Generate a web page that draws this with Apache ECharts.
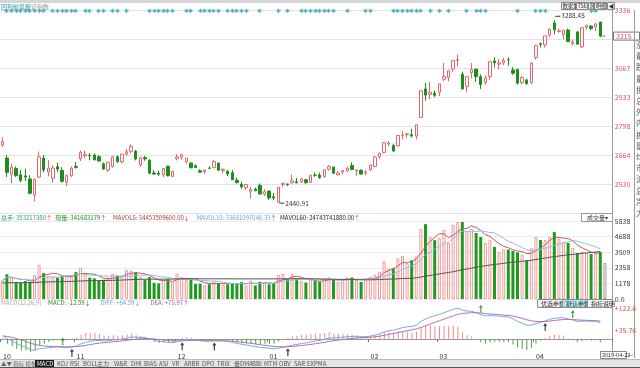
<!DOCTYPE html>
<html><head><meta charset="utf-8">
<script src="https://cdn.jsdelivr.net/npm/echarts/dist/echarts.min.js"></script>
<style>html,body{margin:0;padding:0;background:#fff;overflow:hidden}#c{width:640px;height:368px}</style>
</head><body><div id="c"></div>
<script>
// ---------------- data ----------------
const dates = [
'2018-10-10','2018-10-11','2018-10-12','2018-10-15','2018-10-16','2018-10-17','2018-10-18','2018-10-19','2018-10-22','2018-10-23','2018-10-24','2018-10-25','2018-10-26','2018-10-29','2018-10-30','2018-10-31',
'2018-11-01','2018-11-02','2018-11-05','2018-11-06','2018-11-07','2018-11-08','2018-11-09','2018-11-12','2018-11-13','2018-11-14','2018-11-15','2018-11-16','2018-11-19','2018-11-20','2018-11-21','2018-11-22','2018-11-23','2018-11-26','2018-11-27','2018-11-28','2018-11-29','2018-11-30',
'2018-12-03','2018-12-04','2018-12-05','2018-12-06','2018-12-07','2018-12-10','2018-12-11','2018-12-12','2018-12-13','2018-12-14','2018-12-17','2018-12-18','2018-12-19','2018-12-20','2018-12-21','2018-12-24','2018-12-25','2018-12-26','2018-12-27','2018-12-28',
'2019-01-02','2019-01-03','2019-01-04','2019-01-07','2019-01-08','2019-01-09','2019-01-10','2019-01-11','2019-01-14','2019-01-15','2019-01-16','2019-01-17','2019-01-18','2019-01-21','2019-01-22','2019-01-23','2019-01-24','2019-01-25','2019-01-28','2019-01-29','2019-01-30','2019-01-31',
'2019-02-01','2019-02-11','2019-02-12','2019-02-13','2019-02-14','2019-02-15','2019-02-18','2019-02-19','2019-02-20','2019-02-21','2019-02-22','2019-02-25','2019-02-26','2019-02-27','2019-02-28',
'2019-03-01','2019-03-04','2019-03-05','2019-03-06','2019-03-07','2019-03-08','2019-03-11','2019-03-12','2019-03-13','2019-03-14','2019-03-15','2019-03-18','2019-03-19','2019-03-20','2019-03-21','2019-03-22','2019-03-25','2019-03-26','2019-03-27','2019-03-28','2019-03-29',
'2019-04-01','2019-04-02','2019-04-03','2019-04-04','2019-04-08','2019-04-09','2019-04-10','2019-04-11','2019-04-12','2019-04-15','2019-04-16','2019-04-17','2019-04-18','2019-04-19','2019-04-22'];
const openP = [2711,2650,2575,2602,2572,2567,2553,2478,2562,2650,2585,2556,2610,2592,2538,2568,
2611,2646,2660,2662,2664,2656,2623,2594,2610,2656,2633,2668,2681,2682,2618,2652,2640,2581,2580,2572,2612,2565,
2647,2654,2633,2627,2614,2591,2586,2603,2605,2627,2592,2588,2582,2547,2528,2512,2496,2506,2523,2482,
2497,2470,2446,2528,2530,2535,2540,2540,2549,2538,2571,2571,2563,2598,2608,2572,2585,2590,2615,2590,2593,2581,
2596,2611,2656,2676,2715,2708,2706,2755,2758,2758,2752,2838,2970,2945,2951,
2955,3015,3024,3062,3103,3038,2982,3046,3062,3027,3000,3028,3100,3085,3091,3105,3058,3060,3000,3012,2999,
3116,3180,3174,3220,3276,3236,3222,3243,3180,3234,3165,3256,3262,3257,3280];
const highP = [2747,2664,2623,2611,2594,2601,2571,2555,2680,2664,2640,2616,2629,2608,2575,2611,
2632,2685,2685,2674,2671,2664,2630,2633,2660,2662,2670,2692,2714,2686,2656,2660,2644,2594,2590,2604,2614,2591,
2667,2666,2650,2628,2621,2598,2595,2612,2640,2627,2601,2595,2594,2560,2540,2528,2516,2513,2532,2505,
2500,2488,2515,2536,2531,2574,2558,2555,2553,2571,2582,2582,2598,2618,2609,2590,2595,2610,2630,2598,2598,2594,
2619,2659,2675,2724,2728,2717,2756,2774,2767,2786,2805,2961.8,2998,3002,2963,
2995,3090.8,3055,3103,3129.94,3050,3027,3090,3062,3038,3034,3097,3117,3108,3114,3118,3071,3065,3029,3018,3093,
3176,3186,3217,3251,3288.45,3250,3244,3250,3198,3240,3257,3270,3264,3276,3282];
const lowP = [2701,2562,2534,2562,2537,2543,2482,2449.2,2556,2584,2565,2536,2586,2536,2520,2561,
2601,2636,2650,2640,2640,2635,2597,2585,2605,2628,2625,2660,2671,2639,2608,2637,2575,2573,2568,2561,2566,2561,
2639,2642,2625,2601,2604,2583,2578,2598,2603,2590,2579,2566,2548,2532,2508,2502,2462,2496,2482,2474,
2456,2455,2440.91,2515,2520,2531,2533,2535,2530,2534,2563,2553,2560,2592,2577,2569,2575,2587,2594,2568,2573,2571,
2591,2607,2646,2671,2704,2679,2705,2736,2744,2745,2737,2838,2916,2922,2932,
2937,3006,3006,3050,3075,2969,2954,3019,3002,2970,2991,3013,3070,3061,3081,3078,3036,2990,2993,2989,2992,
3107,3162,3162,3210,3224,3230,3200,3188,3172,3177,3160,3245,3243,3238,3210];
const closeP = [2725.84,2583.46,2606.91,2568.10,2546.33,2561.61,2486.42,2550.47,2654.88,2594.83,2603.30,2603.80,2598.85,2542.10,2568.05,2602.78,
2606.24,2676.48,2665.43,2659.36,2641.34,2635.63,2598.87,2630.52,2654.88,2632.24,2668.17,2679.11,2703.51,2645.43,2651.51,2645.85,2579.48,2575.81,2574.68,2601.74,2567.44,2588.19,
2654.80,2665.96,2649.81,2605.18,2605.89,2584.58,2594.09,2602.15,2634.05,2593.74,2597.97,2576.65,2549.56,2536.27,2516.25,2527.01,2504.82,2498.29,2483.09,2493.90,
2465.29,2464.36,2514.87,2533.09,2526.46,2544.34,2535.10,2553.83,2535.77,2570.34,2570.42,2559.64,2596.01,2610.51,2579.70,2581.00,2591.69,2601.72,2596.98,2594.25,2575.58,2584.57,
2618.23,2653.90,2671.89,2721.07,2719.70,2682.39,2754.36,2755.65,2761.22,2751.80,2804.23,2961.28,2941.52,2953.82,2940.95,
2994.01,3027.58,3054.25,3102.10,3106.42,2969.86,3026.99,3060.31,3026.95,2990.69,3021.75,3096.42,3090.98,3090.64,3101.46,3104.15,3043.03,2997.10,3022.72,2994.94,3090.76,
3170.36,3176.82,3216.30,3246.57,3244.81,3239.66,3241.93,3189.96,3188.63,3177.79,3253.60,3263.12,3250.20,3270.80,3215.04];
const volume = [1380,1850,1650,1270,1210,1340,1250,1780,2560,1940,1700,1690,1600,1730,1770,1660,
2010,2320,1820,1600,1540,1370,1440,1590,1880,1740,1740,2180,2120,2000,1650,1440,1640,1210,1170,1420,1480,1260,
1900,1630,1420,1440,1130,1140,1020,1110,1330,1200,1040,1100,1150,1170,1260,1000,1380,1010,1290,1260,
1100,1200,1800,1890,1480,1890,1500,1360,1230,1440,1340,1290,1500,1620,1450,1280,1420,1620,1610,1440,1270,1510,
1680,1820,2040,2830,2270,2300,3040,3220,2680,2900,3180,5240,5600,4640,4410,
4560,5160,4190,5540,5760,5760,5090,5240,4940,4640,4190,4400,3900,3500,3700,3700,3600,3500,3300,2900,3800,
4640,4414,4414,4640,5012,4500,4264,4190,3815,3440,3515,3440,3366,3440,3515];
const pendingVolume = 2693;
const priorVolumeMean = 1200;   // level of the MAVOL60 line at the left edge
const signalIdx = [1,2,3,4,5,6,7,8,9,11,12,13,14,15,16,18,19,21,22,24,25,27,32,33,34,35,36,37,40,41,43,44,45,46,47,49,50,51,52,53,56,60,62,65,66,67,68,69,70,71,72,75,79,80,85,86,87,88,89,90,91,93,95,97,101,103,104,105,112,116,117,118,128,129];
const goldenIdx = [15,39,46,62,118];
const deadIdx = [13,104,124];
const priceTickLabels = ['', '2530','2664','2798','2933','3067','','3336'];
const volTickLabels = ['0.0','1178','2358','3509','4688','5838'];
const macdTickLabels = ['', '+35.76', '+122.6'];
const seed = {ema12: 2738, ema26: 2722, dea: 12};

// ---------------- derived ----------------
const N = dates.length;
const cats = dates.concat(['', '']);
const up = closeP.map((c,i)=>c >= openP[i]);
function ma(arr, n, prior){ return arr.map((v,i)=>{ const s=Math.max(0,i-n+1); let t=0; for(let j=s;j<=i;j++) t+=arr[j]; const k=i-s+1; if(prior!=null) return +((t+(n-k)*prior)/n).toFixed(1); return +(t/k).toFixed(1); }); }
const ma5 = ma(volume,5), ma10 = ma(volume,10), ma60 = ma(volume,60,priorVolumeMean);
let e12=seed.ema12, e26=seed.ema26, dea=seed.dea;
const diffArr=[], deaArr=[], histArr=[];
closeP.forEach((c,i)=>{ e12 = e12 + (c-e12)*2/13; e26 = e26 + (c-e26)*2/27; const d=e12-e26; dea = dea + (d-dea)*0.2; diffArr.push(+d.toFixed(2)); deaArr.push(+dea.toFixed(2)); histArr.push(+(2*(d-dea)).toFixed(2)); });
const monthStart = new Set(); dates.forEach((d,i)=>{ if(i===0 || d.slice(5,7)!==dates[i-1].slice(5,7)) monthStart.add(i); });

const FONT = '"Noto Sans CJK SC","DejaVu Sans",sans-serif';
const RED = '#e0676b', GREEN = '#1d8f1d';
const GL = 0, GW = 611.8;

const chart = echarts.init(document.getElementById('c'));
const xBase = (gi, show) => ({type:'category', gridIndex:gi, data:cats, boundaryGap:true,
  axisLine:{show:show, lineStyle:{color:'#9a9a9a'}}, axisTick:{show:show, interval:(i)=>monthStart.has(i), length:3, lineStyle:{color:'#777'}},
  axisLabel:{show:show, interval:(i)=>monthStart.has(i), formatter:(v)=>v? v.slice(5,7):'', align:'left', margin:1, fontSize:7, color:'#333', fontFamily:FONT},
  splitLine:{show:false}});

chart.setOption({
  animation:false,
  grid:[{left:GL, top:10, width:GW, height:203},{left:GL, top:221, width:GW, height:78},{left:GL, top:308, width:GW, height:44}],
  xAxis:[xBase(0,false), xBase(1,false), xBase(2,true)],
  yAxis:[
    {type:'value', gridIndex:0, position:'right', min:2395.2, max:3336, interval:134.4, scale:true,
     axisLine:{show:true, lineStyle:{color:'#9a9a9a'}}, axisTick:{show:false},
     axisLabel:{margin:3, fontSize:7, color:'#d9534f', fontFamily:FONT, formatter:(v)=>priceTickLabels[Math.round((v-2395.2)/134.4)]||''},
     splitLine:{lineStyle:{color:'#e3e3e3'}}},
    {type:'value', gridIndex:1, position:'right', min:0, max:5838, interval:1167.6,
     axisLine:{show:true, lineStyle:{color:'#9a9a9a'}}, axisTick:{show:false},
     axisLabel:{margin:3, fontSize:7, color:'#333', fontFamily:FONT, formatter:(v)=>volTickLabels[Math.round(v/1167.6)]||''},
     splitLine:{lineStyle:{color:'#ececec'}}},
    {type:'value', gridIndex:2, position:'right', min:-51.08, max:122.6, interval:86.84,
     axisLine:{show:true, lineStyle:{color:'#9a9a9a'}}, axisTick:{show:false},
     axisLabel:{margin:3, fontSize:7, color:'#d9534f', fontFamily:FONT, formatter:(v)=>macdTickLabels[Math.round((v+51.08)/86.84)]||''},
     splitLine:{show:false}}
  ],
  series:[
    {type:'candlestick', xAxisIndex:0, yAxisIndex:0, barWidth:3,
     data: dates.map((d,i)=>[openP[i], closeP[i], lowP[i], highP[i]]),
     itemStyle:{color:'#ffffff', color0:GREEN, borderColor:RED, borderColor0:GREEN, borderWidth:1}},
    {type:'scatter', xAxisIndex:0, yAxisIndex:0, symbolSize:1, itemStyle:{color:'rgba(0,0,0,0)'},
     data: signalIdx.map(i=>[i, 3329]),
     label:{show:true, formatter:'✱', position:'inside', fontSize:6, color:'#2f9db5'}},
    {type:'bar', xAxisIndex:1, yAxisIndex:1, barWidth:3,
     data: volume.map((v,i)=>({value:v, itemStyle: up[i]?{color:'#ffffff', borderColor:'#f09a9a', borderWidth:1}:{color:'#1e9a1e'}})).concat([{value:pendingVolume, itemStyle:{color:'#ffffff', borderColor:'#9a9a9a', borderWidth:1}}])},
    {type:'line', xAxisIndex:1, yAxisIndex:1, data:ma5, symbol:'none', lineStyle:{width:1, color:'#c15a5a'}},
    {type:'line', xAxisIndex:1, yAxisIndex:1, data:ma10, symbol:'none', lineStyle:{width:1, color:'#8cc0e6'}},
    {type:'line', xAxisIndex:1, yAxisIndex:1, data:ma60, symbol:'none', lineStyle:{width:1, color:'#555555'}},
    {type:'bar', xAxisIndex:2, yAxisIndex:2, barWidth:1,
     data: histArr.map(v=>({value:v, itemStyle:{color: v>=0?'#f08a8a':'#43a043'}}))},
    {type:'line', xAxisIndex:2, yAxisIndex:2, data:diffArr, symbol:'none', lineStyle:{width:1, color:'#74aed6'}},
    {type:'line', xAxisIndex:2, yAxisIndex:2, data:deaArr, symbol:'none', lineStyle:{width:1, color:'#b46fb4'}},
    {type:'scatter', xAxisIndex:2, yAxisIndex:2, symbol:'path://M2,0 L4,3 L2.6,3 L2.6,8 L1.4,8 L1.4,3 L0,3 Z', symbolSize:[4,8], symbolOffset:[0,6],
     itemStyle:{color:'#111'}, data: goldenIdx.map(i=>[i, diffArr[i]])},
    {type:'scatter', xAxisIndex:2, yAxisIndex:2, symbol:'path://M2,0 L4,3 L2.6,3 L2.6,8 L1.4,8 L1.4,3 L0,3 Z', symbolSize:[4,8], symbolOffset:[0,-6],
     itemStyle:{color:'#1d8f1d'}, data: deadIdx.map(i=>[i, diffArr[i]])}
  ]
});

// --------- annotations & chrome ---------
const px = (i,v,g)=>chart.convertToPixel({xAxisIndex:g, yAxisIndex:g},[i,v]);
const hiIdx = highP.indexOf(Math.max(...highP)), loIdx = lowP.indexOf(Math.min(...lowP));
const hp = px(hiIdx, highP[hiIdx], 0), lp = px(loIdx, lowP[loIdx], 0), cp = px(N-1, closeP[N-1], 0);
const T = (x,y,text,fill,size,extra)=>Object.assign({type:'text', x, y, style:{text, fill, font:(size||7)+'px '+FONT, textVerticalAlign:'middle'}}, extra||{});
const R = (x,y,w,h,fill,stroke)=>({type:'rect', shape:{x,y,width:w,height:h}, style:{fill:fill||'none', stroke:stroke||null, lineWidth:1}});
const L = (x1,y1,x2,y2,c)=>({type:'line', shape:{x1,y1,x2,y2}, style:{stroke:c||'#999', lineWidth:1}});
const g = [];
g.push(R(0,0,640,3,'#d6d6d6'));
g.push(T(1,6.5,'回到前复权','#2a9cb0',6), T(25,6.5,'上证指数','#999',6));
[['数据加入',561,14],['TSE',576,11],['⊠',588,5],['明细',594,12],['◀',607,7]].forEach(([t,x,w])=>{ g.push(R(x+0.5,2.5,w,7,'#f4f4f4','#8a8a8a'), T(x+1.5,6,t,'#333',5.5)); });
g.push(L(hp[0]+1, hp[1]-4, hp[0]+6, hp[1]-4,'#333'), T(hp[0]+7, hp[1]-4.5, '3288.45','#333',6.5));
g.push(L(lp[0]+1, lp[1], lp[0]+6, lp[1],'#333'), T(lp[0]+7, lp[1], '2440.91','#333',6.5));
g.push(L(cp[0]+2, cp[1], cp[0]+5, cp[1], '#d9534f'), R(613.5, cp[1]-4, 26, 8, '#fff', '#777'), T(616, cp[1], '3215', '#d9534f', 7));
g.push(L(634.5,10,634.5,358,'#999'));
['涨','最','跌','最','振','总','外','内','换','量','均','市','流','总','净','大'].forEach((c,i)=>g.push(T(636, 45+i*11.2, c, '#555', 8)));
g.push({type:'text', x:1, y:218, style:{rich:{a:{fill:'#2a9a8a',font:'6px '+FONT},b:{fill:'#1d8f1d',font:'6px '+FONT},c:{fill:'#a04040',font:'6px '+FONT},d:{fill:'#6aa8d0',font:'6px '+FONT},e:{fill:'#222',font:'6px '+FONT},r:{fill:'#e04040',font:'6px '+FONT}},
  text:'{a|总手: 353217380}{r|↑} {b|现量: 341683179}{r|↑}  {c|MAVOL5: 34453509600.00}{r|↓}  {d|MAVOL10: 33681097046.33}{r|↑} {e|MAVOL60: 24743741880.00}{r|↑}', textVerticalAlign:'middle'}});
g.push(R(581.5,213.5,31,8,'#fff','#999'), T(587,217.5,'成交量','#333',6), T(605,217.5,'▾','#333',6));
g.push({type:'text', x:1, y:303, style:{rich:{a:{fill:'#aaa',font:'6px '+FONT},b:{fill:'#1d8f1d',font:'6px '+FONT},c:{fill:'#6aa8d0',font:'6px '+FONT},d:{fill:'#a05aa0',font:'6px '+FONT}},
  text:'{a|MACD(12,26,9)}  {b|MACD: -12.59↓}   {c|DIFF: +64.59↓}   {d|DEA: +70.97↑}', textVerticalAlign:'middle'}});
[['优选参数',537,25,'#f4f4f4'],['默认参数',562,25,'#a8e6ee'],['指标说明',587,25,'#f4f4f4']].forEach(([t,x,w,f])=>g.push(R(x+0.5,299.5,w,8,f,'#8a8a8a'), T(x+4,303.5,t,'#333',6)));
g.push(R(600.5,351.5,26,7,'#fff','#888'), T(602,355,'2019-04-22','#333',5.5), T(628,355,'—','#333',6));
g.push(R(0,359,640,9,'#e4e4e4'), L(0,359.5,640,359.5,'#bbb'), L(0,367.5,640,367.5,'#555'));
g.push(T(1,363.5,'▲▼ 指标 模板','#666',5.5));
g.push(R(35,360,19,7,'#1a1a1a'), T(37,363.5,'MACD','#fff',6));
[['KDJ',57],['RSI',70],['BOLL',83],['主力',97],['W&R',114],['DMI',131],['BIAS',144],['ASI',159],['VR',172],['ARBR',184],['DPO',202],['TRIX',217],['量DMA',234],['BBI',252],['MTM',264],['OBV',279],['SAR',294],['EXPMA',307]].forEach(([t,x])=>g.push(T(x,363.5,t,'#555',6)));
chart.setOption({graphic:g});
</script></body></html>
